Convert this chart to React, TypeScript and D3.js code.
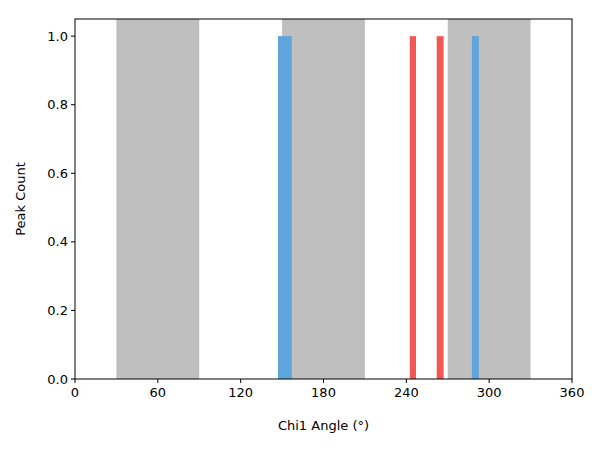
import React from "react";
import * as d3 from "d3";

const bands: [number, number][] = [[30, 90], [150, 210], [270, 330]];
const blueBars: [number, number, number][] = [[147, 157, 1], [287.5, 292.5, 1]];
const redBars: [number, number, number][] = [[242.5, 247, 1], [262, 267, 1]];
const xTicks = [0, 60, 120, 180, 240, 300, 360];
const yTicks = [0, 0.2, 0.4, 0.6, 0.8, 1.0];

const App: React.FC = () => {
    const margin = { top: 19, right: 28, bottom: 71, left: 75 };
    const W = 600, H = 450;
    const x = d3.scaleLinear().domain([0, 360]).range([margin.left, W - margin.right]);
    const y = d3.scaleLinear().domain([0, 1.05]).range([H - margin.bottom, margin.top]);
    const font = "DejaVu Sans, sans-serif";
    return (
        <svg width={W} height={H} style={{ position: "absolute", left: 0, top: 0, background: "#fff" }} fontFamily={font}>
            {bands.map(([a, b], i) => (
                <rect key={"g" + i} x={x(a)} width={x(b) - x(a)} y={y(1.05)} height={y(0) - y(1.05)} fill="#bfbfbf" />
            ))}
            {blueBars.map(([a, b, v], i) => (
                <rect key={"b" + i} x={x(a)} width={x(b) - x(a)} y={y(v)} height={y(0) - y(v)} fill="#5da5da" />
            ))}
            {redBars.map(([a, b, v], i) => (
                <rect key={"r" + i} x={x(a)} width={x(b) - x(a)} y={y(v)} height={y(0) - y(v)} fill="#f15854" />
            ))}
            <rect x={x(0)} y={y(1.05)} width={x(360) - x(0)} height={y(0) - y(1.05)} fill="none" stroke="#000" strokeWidth={1} />
            {xTicks.map((t) => (
                <g key={"xt" + t} transform={`translate(${x(t)},${y(0)})`}>
                    <line y2={4} stroke="#000" />
                    <text y={18} textAnchor="middle" fontSize={13}>{t}</text>
                </g>
            ))}
            {yTicks.map((t) => (
                <g key={"yt" + t} transform={`translate(${x(0)},${y(t)})`}>
                    <line x2={-4} stroke="#000" />
                    <text x={-7} dy="0.35em" textAnchor="end" fontSize={13}>{t.toFixed(1)}</text>
                </g>
            ))}
            <text x={(x(0) + x(360)) / 2} y={430} textAnchor="middle" fontSize={13}>Chi1 Angle (°)</text>
            <text transform={`translate(25,${(y(0) + y(1.05)) / 2}) rotate(-90)`} textAnchor="middle" fontSize={13}>Peak Count</text>
        </svg>
    );
};

export default App;
